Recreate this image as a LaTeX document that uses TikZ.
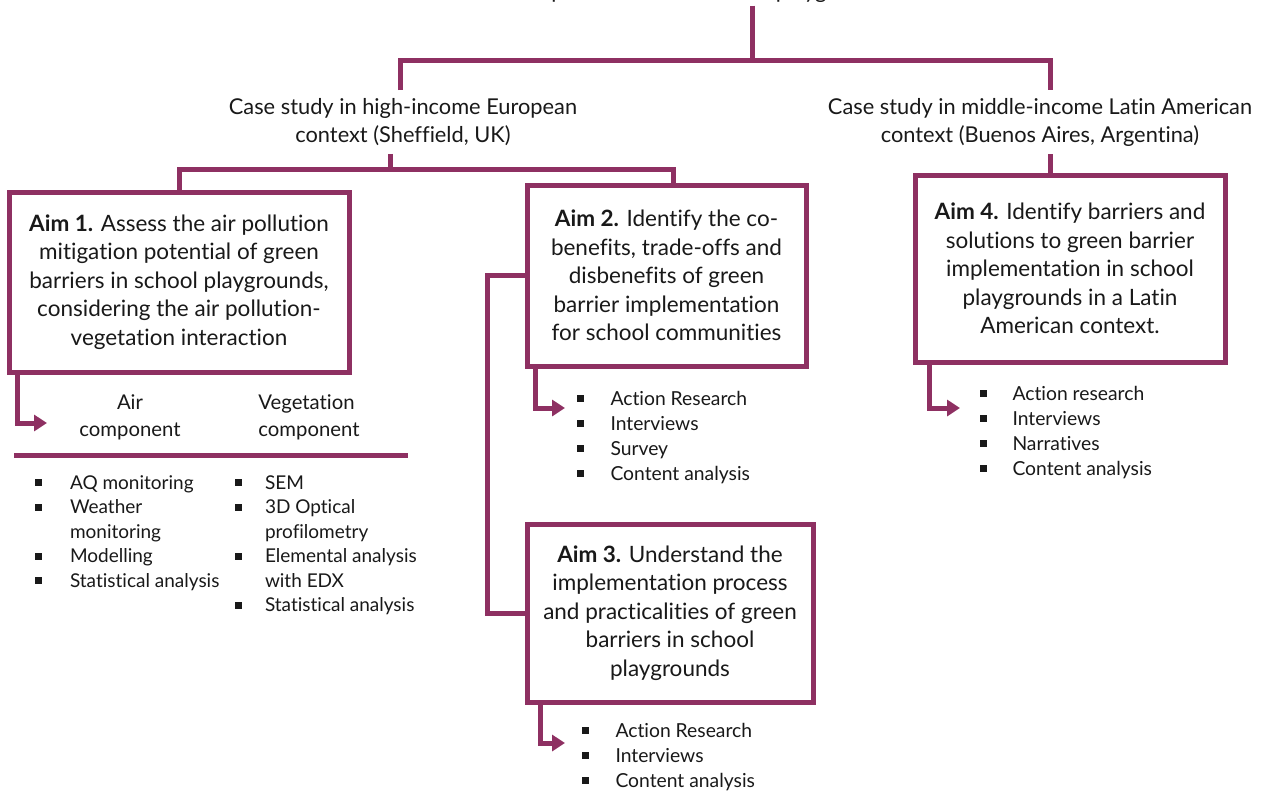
\documentclass[tikz,border=0pt]{standalone}
\usepackage{fontspec}
\setmainfont{Lato}[Ligatures=NoCommon]
\usetikzlibrary{arrows.meta}
\definecolor{plum}{RGB}{142,48,98}
\definecolor{ink}{RGB}{25,25,25}
% small square bullet
\newcommand{\sqb}{\rule[3.2pt]{6.8pt}{6.8pt}}

\begin{document}
\begin{tikzpicture}[x=1pt,y=-1pt,
  every node/.style={text=ink},
  link/.style={draw=plum, line width=5pt},
  linkarrow/.style={link, -{Triangle[length=13pt,width=16pt]}},
  aimbox/.style={draw=plum, line width=5pt, align=center, inner sep=0pt,
    font=\fontsize{22.5}{28.5}\selectfont},
  casetext/.style={align=center, inner sep=8pt, font=\fontsize{21.8}{28}\selectfont},
  headtext/.style={align=center, inner sep=0pt, font=\fontsize{20.3}{27}\selectfont},
  methodlist/.style={anchor=north west, inner sep=0pt, align=left}
]
\fill[white] (0,0) rectangle (1264,793);
\useasboundingbox (0,0) rectangle (1264,793);

% heading (cut at the top edge)
\node[anchor=base west, inner sep=0pt, outer sep=3pt,
      font=\fontsize{22}{26}\selectfont] (title) at (525,-1.5)
  {implementation in school playgrounds};

% case studies
\node[casetext] (case1) at (403,122)
  {Case study in high-income European\\ context (Sheffield, UK)};
\node[casetext] (case2) at (1040,122)
  {Case study in middle-income Latin American\\ context (Buenos Aires, Argentina)};

% aims
\node[aimbox, minimum width=340pt, minimum height=180pt] (aim1) at (179,282)
  {\textbf{Aim 1.} Assess the air pollution\\ mitigation potential of green\\
   barriers in school playgrounds,\\ considering the air pollution-\\ vegetation interaction};
\node[aimbox, minimum width=279pt, minimum height=181pt] (aim2) at (666.5,275.5)
  {\textbf{Aim 2.} Identify the co-\\ benefits, trade-offs and\\ disbenefits of green\\
   barrier implementation\\ for school communities};
\node[aimbox, minimum width=286pt, minimum height=178pt] (aim3) at (670,613)
  {\textbf{Aim 3.} Understand the\\ implementation process\\ and practicalities of green\\
   barriers in school\\ playgrounds};
\node[aimbox, minimum width=310pt, minimum height=187pt] (aim4) at (1070,268.5)
  {\textbf{Aim 4.} Identify barriers and\\ solutions to green barrier\\
   implementation in school\\ playgrounds in a Latin\\ American context.};

% Aim 1 components
\node[headtext] (airhead) at (130,417) {Air\\ component};
\node[headtext, align=left] (veghead) at (309,417) {Vegetation\\ component};

\node[methodlist, font=\fontsize{19}{24.5}\selectfont] (airlist) at (35,471.85)
  {\begin{tabular}{@{}l@{\hspace{28pt}}l@{}}
   \sqb & AQ monitoring\\
   \sqb & Weather\\
        & monitoring\\
   \sqb & Modelling\\
   \sqb & Statistical analysis
   \end{tabular}};
\node[methodlist, font=\fontsize{19}{24.5}\selectfont] (veglist) at (235,471.85)
  {\begin{tabular}{@{}l@{\hspace{23pt}}l@{}}
   \sqb & SEM\\
   \sqb & 3D Optical\\
        & profilometry\\
   \sqb & Elemental analysis\\
        & with EDX\\
   \sqb & Statistical analysis
   \end{tabular}};

% method lists of Aims 2-4
\node[methodlist, font=\fontsize{19.3}{25}\selectfont] (list2) at (577,387.5)
  {\begin{tabular}{@{}l@{\hspace{26.5pt}}l@{}}
   \sqb & Action Research\\
   \sqb & Interviews\\
   \sqb & Survey\\
   \sqb & Content analysis
   \end{tabular}};
\node[methodlist, font=\fontsize{19.3}{25}\selectfont] (list3) at (582,719.5)
  {\begin{tabular}{@{}l@{\hspace{26.5pt}}l@{}}
   \sqb & Action Research\\
   \sqb & Interviews\\
   \sqb & Content analysis
   \end{tabular}};
\node[methodlist, font=\fontsize{19.3}{25}\selectfont] (list4) at (980,382.5)
  {\begin{tabular}{@{}l@{\hspace{25.5pt}}l@{}}
   \sqb & Action research\\
   \sqb & Interviews\\
   \sqb & Narratives\\
   \sqb & Content analysis
   \end{tabular}};

% tree connectors
\coordinate (split) at (752,60);
\coordinate (fork1) at (390,169);
\draw[link] (split |- title.south) -- (split);
\draw[link] ([xshift=-3pt]case1.north) |- (split) -| ([xshift=10pt]case2.north);
\draw[link] ([xshift=-13pt]case1.south) -- (fork1);
\draw[link] (aim1.north) |- (fork1) -| ([xshift=6.5pt]aim2.north);
\draw[link] ([xshift=10pt]case2.south) -- ([xshift=10pt]case2.south |- aim4.north);
\draw[link] (aim2.west) -- ++(-37,0) |- (aim3.west);

% separator under the component headings
\coordinate (sepL) at (14,455);
\coordinate (sepR) at (408,455);
\draw[link] (sepL) -- (sepR);

% arrows to the methods
\coordinate (in1) at (47,423);
\coordinate (in2) at (565,408);
\coordinate (in3) at (565,743);
\coordinate (in4) at (960,408);
\draw[linkarrow] ([xshift=11pt]aim1.south west) |- (in1);
\draw[linkarrow] ([xshift=11pt]aim2.south west) |- (in2);
\draw[linkarrow] ([xshift=16pt]aim3.south west) |- (in3);
\draw[linkarrow] ([xshift=17pt]aim4.south west) |- (in4);
\end{tikzpicture}
\end{document}
